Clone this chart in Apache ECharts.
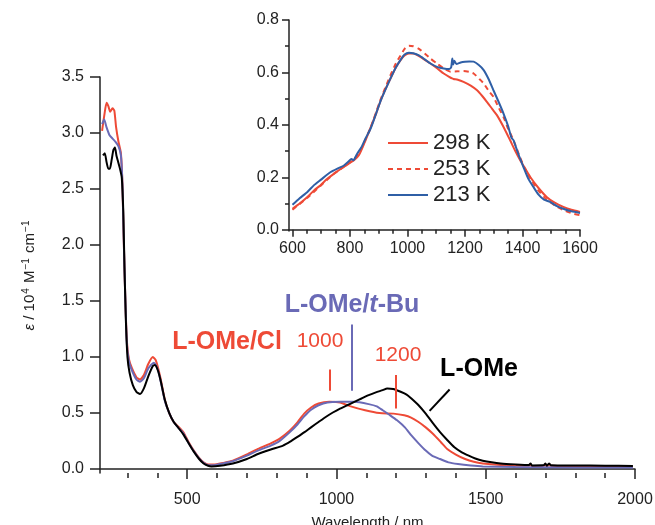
<!DOCTYPE html>
<html>
<head>
<meta charset="utf-8">
<script src="https://cdn.jsdelivr.net/npm/echarts@6/dist/echarts.min.js"></script>
<style>
  html, body { margin: 0; padding: 0; background: #fff; }
  #chartmain { width: 655px; height: 525px; }
</style>
</head>
<body>
<div id="chartmain"></div>
<script>
// main spectra: wavelength (nm) and epsilon (10^4 M^-1 cm^-1)
var clNm = [215,222,230,236,242,250,256,262,270,278,283,288,293,298,305,315,330,342,355,370,385,395,410,425,440,455,470,487,505,521,540,555,570,590,620,653,700,737,780,809,844,870,892,915,940,976,1012,1048,1096,1144,1191,1227,1250,1275,1300,1323,1350,1371,1400,1431,1460,1490,1550,1600,1645,1650,1655,1695,1700,1705,1712,1718,1800,1900,1993];
var clEps = [3.02,3.15,3.27,3.24,3.19,3.22,3.20,3.05,2.92,2.82,2.55,2.0,1.5,1.15,0.98,0.90,0.82,0.80,0.84,0.94,1.0,0.97,0.82,0.62,0.50,0.42,0.38,0.33,0.24,0.17,0.10,0.06,0.04,0.04,0.055,0.075,0.13,0.18,0.23,0.27,0.345,0.42,0.495,0.55,0.585,0.60,0.595,0.56,0.525,0.50,0.495,0.48,0.46,0.42,0.37,0.315,0.24,0.18,0.13,0.09,0.065,0.05,0.036,0.032,0.03,0.045,0.025,0.03,0.045,0.02,0.045,0.03,0.027,0.025,0.024];

var tbuNm = [215,222,230,240,250,260,270,278,283,288,293,298,305,315,330,342,355,370,388,400,410,425,440,455,470,487,505,521,540,555,570,590,620,653,700,737,780,809,844,870,892,915,940,970,1012,1060,1108,1135,1155,1180,1203,1230,1251,1275,1299,1320,1347,1375,1407,1450,1490,1600,1800,1993];
var tbuEps = [3.08,3.12,3.05,2.98,2.95,2.92,2.88,2.80,2.55,2.0,1.5,1.12,0.96,0.88,0.80,0.78,0.81,0.90,0.95,0.90,0.80,0.61,0.50,0.42,0.37,0.32,0.23,0.165,0.095,0.055,0.035,0.035,0.05,0.07,0.12,0.165,0.21,0.25,0.33,0.40,0.47,0.53,0.57,0.595,0.60,0.60,0.58,0.56,0.525,0.48,0.435,0.37,0.30,0.23,0.165,0.12,0.09,0.06,0.045,0.032,0.024,0.018,0.015,0.015];

var omeNm = [218,224,230,236,241,247,253,258,263,268,275,281,286,290,295,300,307,318,330,342,355,370,385,392,402,412,425,440,455,470,487,505,521,540,555,570,581,610,653,700,737,780,821,845,868,893,916,940,964,988,1012,1036,1060,1084,1108,1132,1155,1170,1190,1215,1235,1251,1275,1299,1323,1347,1371,1395,1420,1443,1465,1490,1520,1550,1600,1645,1650,1655,1695,1700,1705,1712,1718,1800,1900,1993];
var omeEps = [2.80,2.82,2.74,2.68,2.68,2.76,2.85,2.87,2.80,2.75,2.68,2.60,2.3,1.8,1.3,1.0,0.86,0.75,0.69,0.67,0.72,0.83,0.92,0.93,0.88,0.78,0.62,0.50,0.42,0.37,0.31,0.23,0.16,0.09,0.05,0.03,0.024,0.03,0.05,0.09,0.135,0.175,0.21,0.245,0.285,0.33,0.375,0.42,0.465,0.505,0.54,0.57,0.60,0.63,0.66,0.685,0.705,0.72,0.715,0.69,0.665,0.63,0.57,0.495,0.41,0.33,0.26,0.195,0.15,0.12,0.095,0.075,0.06,0.05,0.042,0.037,0.05,0.033,0.036,0.05,0.03,0.05,0.035,0.032,0.03,0.027];

// inset: temperature dependence
var k298Nm = [600,625,652,675,698,720,745,779,800,814,831,850,872,890,906,925,941,960,976,990,1005,1020,1034,1055,1080,1105,1126,1145,1155,1160,1175,1195,1220,1242,1260,1276,1295,1311,1335,1357,1375,1392,1410,1427,1455,1484,1512,1542,1570,1600];
var k298Eps = [0.08,0.10,0.125,0.15,0.17,0.193,0.214,0.24,0.255,0.265,0.284,0.33,0.39,0.44,0.49,0.54,0.577,0.62,0.647,0.665,0.672,0.672,0.666,0.652,0.634,0.614,0.596,0.583,0.577,0.575,0.572,0.564,0.55,0.532,0.51,0.488,0.46,0.437,0.39,0.341,0.30,0.265,0.232,0.201,0.16,0.125,0.103,0.087,0.076,0.068];

var k253Nm = [600,652,698,745,779,814,831,850,872,906,941,960,976,990,1005,1020,1040,1060,1080,1105,1126,1150,1175,1195,1215,1230,1250,1265,1282,1299,1315,1334,1350,1369,1390,1410,1430,1455,1484,1512,1542,1570,1600];
var k253Eps = [0.076,0.122,0.168,0.214,0.24,0.27,0.29,0.335,0.39,0.495,0.59,0.635,0.665,0.69,0.702,0.70,0.69,0.672,0.653,0.632,0.615,0.603,0.604,0.605,0.602,0.596,0.575,0.558,0.53,0.507,0.47,0.43,0.385,0.341,0.28,0.23,0.19,0.15,0.115,0.093,0.075,0.063,0.055];

var k213Nm = [600,625,652,675,698,733,760,779,795,805,812,825,840,855,872,890,906,941,960,976,990,1005,1020,1040,1060,1080,1105,1126,1145,1152,1156,1159,1163,1170,1185,1200,1215,1230,1248,1265,1282,1299,1316,1334,1350,1362,1369,1385,1403,1420,1438,1455,1475,1496,1520,1542,1570,1600];
var k213Eps = [0.095,0.12,0.144,0.17,0.19,0.22,0.235,0.245,0.26,0.27,0.265,0.29,0.315,0.35,0.386,0.44,0.49,0.577,0.62,0.648,0.668,0.675,0.673,0.665,0.65,0.634,0.62,0.615,0.613,0.62,0.653,0.63,0.645,0.632,0.638,0.641,0.642,0.641,0.628,0.609,0.575,0.532,0.49,0.443,0.395,0.35,0.341,0.29,0.24,0.195,0.163,0.135,0.115,0.106,0.09,0.08,0.07,0.064];

// ticks
var mainXMajor = [500, 1000, 1500, 2000];
var mainXMinor = [300,400,600,700,800,900,1100,1200,1300,1400,1600,1700,1800,1900];
var mainYMajor = [0, 0.5, 1.0, 1.5, 2.0, 2.5, 3.0, 3.5];
var insetXMajor = [600, 800, 1000, 1200, 1400, 1600];
var insetXMinor = [650,700,750,850,900,950,1050,1100,1150,1250,1300,1350,1450,1500,1550];
var insetYMajor = [0, 0.2, 0.4, 0.6, 0.8];
var insetYMinor = [0.1, 0.3, 0.5, 0.7];

function pairs(xs, ys) {
	var out = [];
	for (var i = 0; i < xs.length; i++) {
		out.push([xs[i], ys[i]]);
	}
	return out;
}

var FONT = 'Liberation Sans';
var RED = '#ee4a36';
var LAV = '#6a6ab6';
var BLUE = '#2f5fa6';
var INK = '#222';

function xAxisDef(grid, min, max, ticks, len, labels) {
	return {
		type : 'value',
		gridIndex : grid,
		min : min,
		max : max,
		position : 'bottom',
		axisLine : { show : labels, lineStyle : { color : INK, width : 1.5 } },
		axisTick : { show : true, customValues : ticks, length : len, lineStyle : { color : INK, width : 1.5 } },
		axisLabel : labels ? {
			customValues : ticks,
			fontFamily : FONT,
			fontSize : 16,
			color : INK,
			margin : grid === 0 ? 19 : 10,
			formatter : function(v) { return String(v); }
		} : { show : false },
		splitLine : { show : false }
	};
}

function yAxisDef(grid, min, max, ticks, len, labels) {
	return {
		type : 'value',
		gridIndex : grid,
		min : min,
		max : max,
		position : 'left',
		axisLine : { show : labels, lineStyle : { color : INK, width : 1.5 } },
		axisTick : { show : true, customValues : ticks, length : len, lineStyle : { color : INK, width : 1.5 } },
		axisLabel : labels ? {
			customValues : ticks,
			fontFamily : FONT,
			fontSize : 16,
			color : INK,
			margin : grid === 0 ? 16 : 10,
			formatter : function(v) { return v.toFixed(1); }
		} : { show : false },
		splitLine : { show : false }
	};
}

var xMain = xAxisDef(0, 208, 2000, mainXMajor, 10, true);
xMain.name = 'Wavelength / nm';
xMain.nameLocation = 'middle';
xMain.nameGap = 42;
xMain.nameTextStyle = { fontFamily : FONT, fontSize : 15, color : INK };

var yMain = yAxisDef(0, -0.035, 3.5, mainYMajor, 10, true);
yMain.name = '{i|ε} / 10{s|4} M{s|−1} cm{s|−1}';
yMain.nameLocation = 'middle';
yMain.nameGap = 61;
yMain.nameTextStyle = {
	fontFamily : FONT, fontSize : 15, color : INK,
	rich : {
		i : { fontFamily : FONT, fontSize : 15, fontStyle : 'italic', color : INK },
		s : { fontFamily : FONT, fontSize : 10, color : INK, verticalAlign : 'top', padding : [0, 1, 8, 1] }
	}
};

function mainLine(name, data, color) {
	return {
		name : name, type : 'line', xAxisIndex : 0, yAxisIndex : 0,
		data : data, symbol : 'none', smooth : 0.2,
		lineStyle : { color : color, width : 2 }, itemStyle : { color : color },
		z : 3
	};
}

function insetLine(name, data, color, dash) {
	return {
		name : name, type : 'line', xAxisIndex : 2, yAxisIndex : 1,
		data : data, symbol : 'none', smooth : 0.2,
		lineStyle : { color : color, width : 2, type : dash ? [5, 4] : 'solid' },
		itemStyle : { color : color },
		z : 3
	};
}

// reference marks drawn in data coordinates
var marks = {
	name : 'marks', type : 'line', xAxisIndex : 0, yAxisIndex : 0, data : [], symbol : 'none',
	silent : true,
	markLine : {
		symbol : 'none', silent : true, label : { show : false },
		data : [
			[{ coord : [976, 0.89], lineStyle : { color : RED, width : 2, type : 'solid' } }, { coord : [976, 0.70] }],
			[{ coord : [1050, 1.29], lineStyle : { color : LAV, width : 2, type : 'solid' } }, { coord : [1050, 0.70] }],
			[{ coord : [1198, 0.84], lineStyle : { color : RED, width : 2, type : 'solid' } }, { coord : [1198, 0.54] }],
			[{ coord : [1379, 0.71], lineStyle : { color : '#000', width : 2, type : 'solid' } }, { coord : [1312, 0.52] }]
		]
	}
};

var option = {
	animation : false,
	backgroundColor : '#fff',
	grid : [
		{ left : 100, top : 77, right : 20, bottom : 52, outerBoundsMode : 'none' },
		{ left : 289, top : 20, width : 291, height : 211, outerBoundsMode : 'none' }
	],
	xAxis : [
		xMain,
		xAxisDef(0, 208, 2000, mainXMinor, 5, false),
		xAxisDef(1, 588, 1600, insetXMajor, 7, true),
		xAxisDef(1, 588, 1600, insetXMinor, 4, false)
	],
	yAxis : [
		yMain,
		yAxisDef(1, -0.005, 0.8, insetYMajor, 7, true),
		yAxisDef(1, -0.005, 0.8, insetYMinor, 4, false)
	],
	legend : {
		data : ['298 K', '253 K', '213 K'],
		orient : 'vertical',
		left : 382,
		top : 127,
		itemWidth : 40,
		itemHeight : 2,
		itemGap : 4,
		textStyle : { fontFamily : FONT, fontSize : 22, color : INK, lineHeight : 22 }
	},
	graphic : [
		{ type : 'text', x : 227, y : 342, style : { text : 'L-OMe/Cl', fill : RED, font : 'bold 25px "Liberation Sans"', align : 'center', verticalAlign : 'middle' } },
		{ type : 'text', x : 320, y : 341, style : { text : '1000', fill : RED, font : '21px "Liberation Sans"', align : 'center', verticalAlign : 'middle' } },
		{ type : 'text', x : 352, y : 305, style : {
			text : '{b|L-OMe/}{i|t}{b|-Bu}', align : 'center', verticalAlign : 'middle',
			rich : {
				b : { fill : LAV, font : 'bold 25px "Liberation Sans"' },
				i : { fill : LAV, font : 'italic bold 25px "Liberation Sans"' }
			}
		} },
		{ type : 'text', x : 398, y : 355, style : { text : '1200', fill : RED, font : '21px "Liberation Sans"', align : 'center', verticalAlign : 'middle' } },
		{ type : 'text', x : 479, y : 369, style : { text : 'L-OMe', fill : '#000', font : 'bold 25px "Liberation Sans"', align : 'center', verticalAlign : 'middle' } }
	],
	series : [
		mainLine('L-OMe/Cl', pairs(clNm, clEps), RED),
		mainLine('L-OMe/t-Bu', pairs(tbuNm, tbuEps), LAV),
		mainLine('L-OMe', pairs(omeNm, omeEps), '#000'),
		marks,
		insetLine('298 K', pairs(k298Nm, k298Eps), RED, false),
		insetLine('253 K', pairs(k253Nm, k253Eps), RED, true),
		insetLine('213 K', pairs(k213Nm, k213Eps), BLUE, false)
	]
};

var myChart = echarts.init(document.getElementById('chartmain'));
myChart.setOption(option);
</script>
</body>
</html>
